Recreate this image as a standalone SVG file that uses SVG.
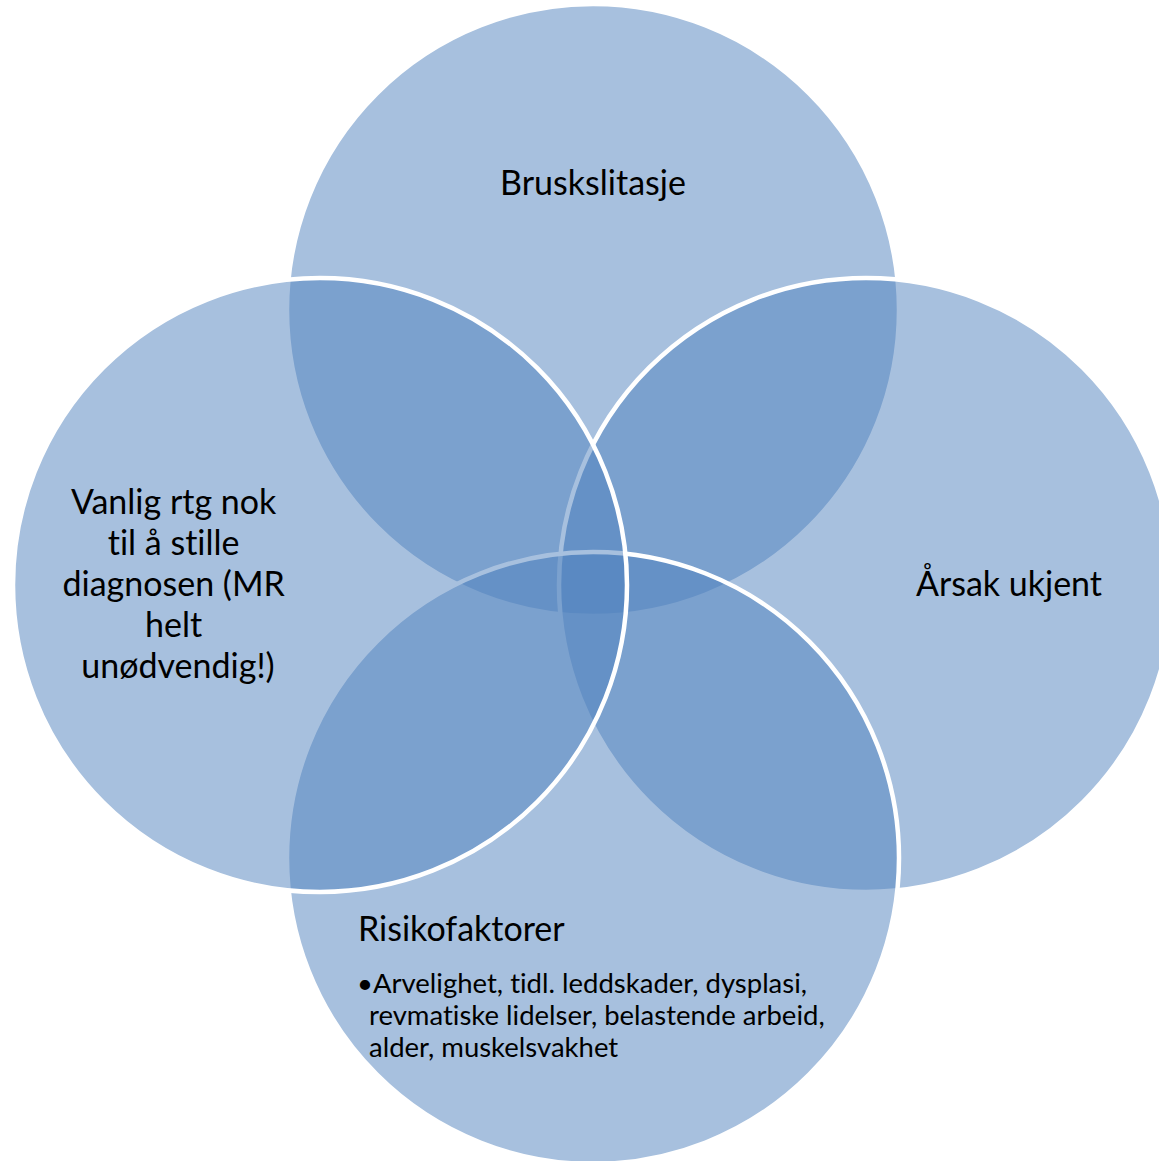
<svg xmlns="http://www.w3.org/2000/svg" width="1159" height="1161" viewBox="0 0 1159 1161">
<style>
.c{fill:#4F81BD;fill-opacity:0.5;stroke:#FFFFFF;stroke-width:4.5}
.t{font-family:Lato,"Open Sans","Liberation Sans",sans-serif;fill:#000000;font-variant-ligatures:none}
.big{font-size:34px}
.small{font-size:27.5px}
</style>
<rect width="1159" height="1161" fill="#FFFFFF"/>
<g id="top"><circle class="c" cx="593" cy="310" r="306"/></g>
<g id="right"><circle class="c" cx="866" cy="585" r="307"/></g>
<g id="bottom"><circle class="c" cx="593" cy="858" r="306"/></g>
<g id="left"><circle class="c" cx="320" cy="585" r="307"/></g>
<g id="connectors"></g>
<g id="labels">
<text class="t big" x="593" y="195" text-anchor="middle">Bruskslitasje</text>
<text class="t big" x="1009" y="596" text-anchor="middle">Årsak ukjent</text>
<text class="t big" text-anchor="middle">
<tspan x="178" y="514">Vanlig rtg nok</tspan>
<tspan x="178" y="555">til å stille</tspan>
<tspan x="178" y="596">diagnosen (MR</tspan>
<tspan x="178" y="637">helt</tspan>
<tspan x="178" y="678">unødvendig!)</tspan>
</text>
<text class="t big" x="358" y="941">Risikofaktorer</text>
<text class="t small">
<tspan x="357" y="993">•Arvelighet, tidl. leddskader, dysplasi,</tspan>
<tspan x="369" y="1025">revmatiske lidelser, belastende arbeid,</tspan>
<tspan x="369" y="1057">alder, muskelsvakhet</tspan>
</text>
</g>
</svg>
